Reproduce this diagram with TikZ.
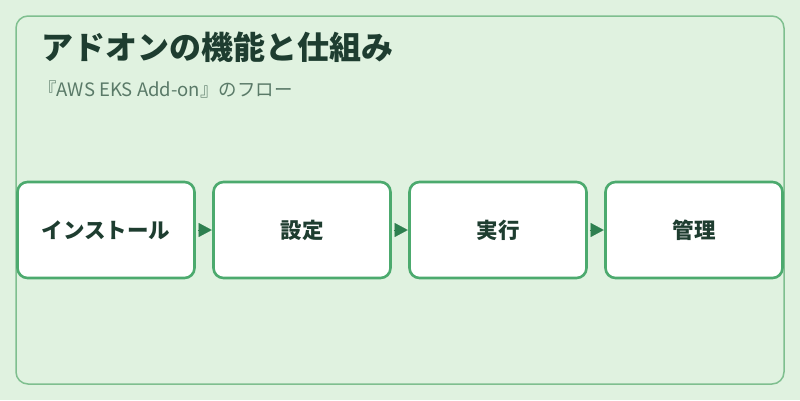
\documentclass[tikz,border=0pt]{standalone}
\usepackage{fontspec}
\setmainfont{Noto Sans CJK JP}
\usepackage{tikz}
\usetikzlibrary{arrows.meta}
\usetikzlibrary{positioning}
\definecolor{bgcol}{HTML}{E0F2E0}
\definecolor{framecol}{HTML}{7FBF8F}
\definecolor{boxcol}{HTML}{4CAA6E}
\definecolor{tipcol}{HTML}{2E8050}
\definecolor{titlecol}{HTML}{1E3D30}
\definecolor{subcol}{HTML}{5A7A68}
\begin{document}
\begin{tikzpicture}
			[x=1pt,y=1pt,
			stepbox/.style={draw=boxcol,line width=2.6pt,fill=white,rounded corners=10pt,
				minimum width=177pt,minimum height=96pt,inner sep=0pt,
				font=\fontsize{21.5}{24}\selectfont\bfseries,text=titlecol},
			flow/.style={-{Triangle[length=13pt,width=14pt]},draw=tipcol,fill=tipcol,line width=0.1pt,shorten <=2pt,shorten >=0.5pt}]
			\fill[bgcol] (0,0) rectangle (800,-400);
			\draw[framecol,line width=1.5pt,rounded corners=12pt] (16,-16) rectangle (784,-384);
			\node[anchor=base west,inner sep=0pt,font=\fontsize{32}{36}\selectfont\bfseries,text=titlecol] (title) at (41,-59) {アドオンの機能と仕組み};
			\node[anchor=base west,inner sep=0pt,font=\fontsize{18.5}{21}\selectfont,text=subcol] (sub) at (38,-96) {『AWS EKS Add-on』のフロー};
			\node[stepbox] (s1) at (106,-230) {インストール};
			\node[stepbox] (s2) at (302,-230) {設定};
			\node[stepbox] (s3) at (498,-230) {実行};
			\node[stepbox] (s4) at (694,-230) {管理};
			
			\foreach \from/\to in 
			{s1/s2, s2/s3, s3/s4}
			\draw[flow] (\from) -- (\to);
			\end{tikzpicture}
\end{document}
